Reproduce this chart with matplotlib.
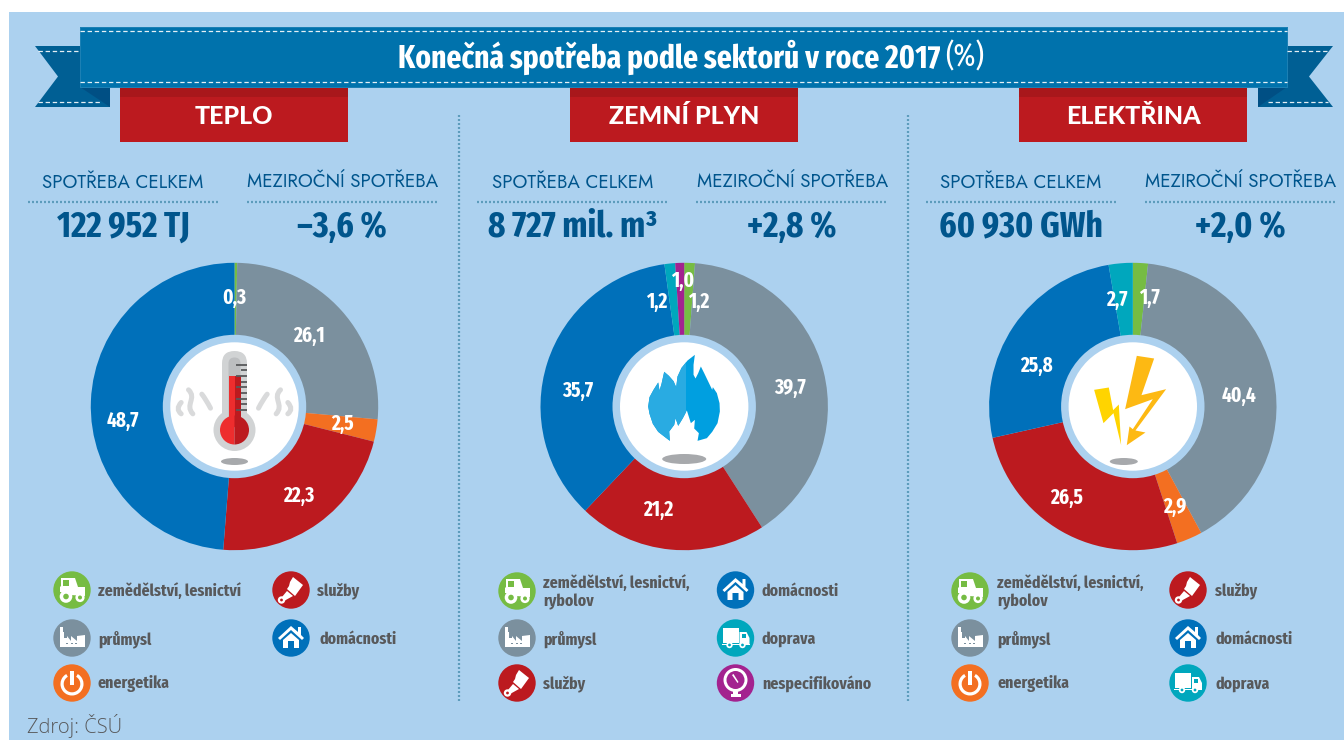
import matplotlib
matplotlib.use("Agg")
import logging
import matplotlib.pyplot as plt
from matplotlib.patches import Circle, Ellipse, Polygon, Rectangle, Wedge, FancyBboxPatch, PathPatch
from matplotlib.path import Path

logging.getLogger("matplotlib.font_manager").setLevel(logging.ERROR)

W, H = 1344, 740

# data
panel_titles = ["TEPLO", "ZEMNÍ PLYN", "ELEKTŘINA"]
panel_totals = ["122 952 TJ", "8 727 mil. m³", "60 930 GWh"]
panel_changes = ["–3,6 %", "+2,8 %", "+2,0 %"]

teplo_sectors = ["zem", "prum", "ener", "sluz", "dom"]
teplo_values = [0.3, 26.1, 2.5, 22.3, 48.7]
plyn_sectors = ["zem", "prum", "sluz", "dom", "dop", "nesp"]
plyn_values = [1.2, 39.7, 21.2, 35.7, 1.2, 1.0]
elektrina_sectors = ["zem", "prum", "ener", "sluz", "dom", "dop"]
elektrina_values = [1.7, 40.4, 2.9, 26.5, 25.8, 2.7]

teplo_labels = ["0,3", "26,1", "2,5", "22,3", "48,7"]
plyn_labels = ["1,2", "39,7", "21,2", "35,7", "1,2", "1,0"]
elektrina_labels = ["1,7", "40,4", "2,9", "26,5", "25,8", "2,7"]

sector_names = {
    "zem": "zemědělství, lesnictví",
    "zem2": "zemědělství, lesnictví,\nrybolov",
    "prum": "průmysl",
    "ener": "energetika",
    "sluz": "služby",
    "dom": "domácnosti",
    "dop": "doprava",
    "nesp": "nespecifikováno",
}

# colours
colors = {
    "zem": "#76BC43",
    "prum": "#7B909E",
    "ener": "#F36F21",
    "sluz": "#BC1A1F",
    "dom": "#0070BA",
    "dop": "#00A7BD",
    "nesp": "#A3228F",
}
BG = "#ACD1EF"
RIBBON = "#0072AC"
TAIL = "#005F94"
FOLD = "#004F84"
DARKBLUE = "#00558C"
GREY_TEXT = "#58595B"

NARROW = ["Fira Sans Extra Condensed", "Fira Sans Condensed", "Open Sans", "DejaVu Sans"]
FUTURA = ["Jost", "Lato", "DejaVu Sans"]

fig = plt.figure(figsize=(W / 100, H / 100), dpi=100, facecolor="white")

ax = fig.add_axes([0, 0, 1, 1], zorder=0)
ax.set_xlim(0, W)
ax.set_ylim(H, 0)
ax.axis("off")

top = fig.add_axes([0, 0, 1, 1], zorder=5)
top.set_xlim(0, W)
top.set_ylim(H, 0)
top.axis("off")
top.patch.set_alpha(0)


def poly(a, pts, color, z=3, cx=0, cy=0, k=1.0, **kw):
    pts = [(cx + p[0] * k, cy + p[1] * k) for p in pts]
    patch = Polygon(pts, closed=True, facecolor=color, edgecolor="none", zorder=z, **kw)
    a.add_patch(patch)
    return patch


def circ(a, x, y, r, color, z=3):
    a.add_patch(Circle((x, y), r, facecolor=color, edgecolor="none", zorder=z))


def rect(a, x0, y0, x1, y1, color, z=3):
    a.add_patch(Rectangle((x0, y0), x1 - x0, y1 - y0, facecolor=color, edgecolor="none", zorder=z))


# background
rect(ax, 9, 12, W, H, BG, z=1)

# ribbon
poly(ax, [(35, 46), (110, 46), (110, 107), (35, 107), (58, 76.5)], TAIL)
poly(ax, [(1333, 46), (1258, 46), (1258, 107), (1333, 107), (1309, 76.5)], TAIL)
poly(ax, [(80, 87), (110, 87), (110, 107)], FOLD, z=4)
poly(ax, [(1287, 87), (1258, 87), (1258, 107)], FOLD, z=4)
rect(ax, 80, 26.5, 1287.5, 87.5, "#1C80B4", z=5)
rect(ax, 80.5, 27.5, 1287, 86.5, RIBBON, z=5)
for y0, x0, x1 in [(31, 80, 1287), (82, 80, 1287), (51, 38, 80), (51, 1287, 1328), (102, 38, 100), (102, 1268, 1328)]:
    ax.plot([x0, x1], [y0, y0], color="white", lw=0.9, dashes=(3.5, 2.2), zorder=6, alpha=0.9)

t1 = ax.text(398, 57, "Konečná spotřeba podle sektorů v roce 2017", color="white", fontsize=23,
             fontweight="bold", family=NARROW, ha="left", va="center", zorder=7)
fig.canvas.draw()
ext = t1.get_window_extent()
ax.text(ext.x1 + 5, 57, "(%)", color="white", fontsize=23, family=NARROW, ha="left", va="center", zorder=7)


# centre icons
def thermometer(cx, cy):
    k = 1 / 3
    steam = [
        [(-138, -50), (-112, -25), (-150, -5), (-125, 22)],
        [(-160, -12), (-178, 8), (-160, 22)],
        [(-98, -37), (-86, -22), (-72, 5)],
        [(138, -50), (112, -25), (150, -5), (125, 22)],
        [(160, -12), (178, 8), (160, 22)],
        [(98, -37), (86, -22), (72, 5)],
    ]
    for s in steam:
        pts = [(cx + q[0] * k, cy + q[1] * k) for q in s]
        codes = [Path.MOVETO] + ([Path.CURVE4] * 3 if len(pts) == 4 else [Path.CURVE3] * 2)
        top.add_patch(PathPatch(Path(pts, codes), facecolor="none", edgecolor="#D9DADB", lw=3.6,
                                capstyle="round", zorder=6))
    top.add_patch(FancyBboxPatch((cx - 12.5, cy - 55.5), 25, 80, boxstyle="round,pad=0,rounding_size=12.5",
                                 facecolor="#D1D3D4", edgecolor="none", zorder=6))
    circ(top, cx, cy + 23.5, 21, "#D1D3D4", z=6)
    top.add_patch(FancyBboxPatch((cx - 6, cy - 49), 12, 70, boxstyle="round,pad=0,rounding_size=6",
                                 facecolor="#BCBEC0", edgecolor="none", zorder=7))
    rect(top, cx - 6, cy - 30.5, cx, cy + 20, "#EE2D2E", z=8)
    rect(top, cx, cy - 30.5, cx + 6, cy + 20, "#BC1A1F", z=8)
    top.add_patch(Wedge((cx, cy + 23.5), 14.5, 90, 270, facecolor="#EE2D2E", edgecolor="none", zorder=8))
    top.add_patch(Wedge((cx, cy + 23.5), 14.5, 270, 90, facecolor="#BC1A1F", edgecolor="none", zorder=8))
    for i in range(5):
        y0 = cy - 41.8 + i * 11.3
        top.plot([cx + 1, cx + 12], [y0, y0], color="#58595B", lw=1.3, zorder=9, solid_capstyle="butt")
        if i < 4:
            top.plot([cx + 6.5, cx + 12], [y0 + 5.65, y0 + 5.65], color="#58595B", lw=1.3, zorder=9,
                     solid_capstyle="butt")
    top.add_patch(Ellipse((cx, cy + 55), 27, 7, facecolor="#A7A9AC", edgecolor="none", zorder=6))


def flame(cx, cy):
    k = 1 / 3
    outline = [(-43, 103), (-60, 90), (-78, 76), (-94, 52), (-104, 22), (-108, 0), (-104, -28), (-92, -50),
               (-78, -72), (-74, -48), (-68, -68), (-60, -104), (-46, -92), (-32, -76), (-24, -58), (-20, -90),
               (-8, -116), (10, -138), (32, -155), (28, -125), (28, -95), (34, -84), (42, -100), (50, -120),
               (60, -100), (72, -75), (84, -50), (86, -58), (98, -40), (106, -10), (107, 15), (100, 50),
               (84, 76), (68, 95), (40, 103), (44, 80), (30, 66), (32, 40), (20, 50), (8, 12), (-4, 35),
               (-18, 58), (-26, 35), (-30, 55), (-45, 75)]
    poly(top, outline, "#009FE0", z=6, cx=cx, cy=cy, k=k)
    left = poly(top, outline, "#29ABE2", z=7, cx=cx, cy=cy, k=k)
    clip = Rectangle((cx - 40, cy - 60), 41.5, 110, transform=top.transData)
    left.set_clip_path(clip)
    top.add_patch(Ellipse((cx, cy + 52.5), 44, 10, facecolor="#A7A9AC", edgecolor="none", zorder=6))


def lightning(cx, cy):
    k = 1 / 3
    left_bolt = [(-116, -50), (-72, -57), (-59, 11), (-42, -6), (-35, 116), (-58, 20), (-88, 50)]
    right_bolt = [(12, -152), (64, -144), (26, -34), (100, -52), (8, 72), (38, 78), (-18, 116), (-10, 60),
                  (0, 68), (60, -22), (-23, 8)]
    poly(top, left_bolt, "#FFD400", z=6, cx=cx, cy=cy, k=k)
    poly(top, right_bolt, "#FDB913", z=6, cx=cx, cy=cy, k=k)
    top.add_patch(Ellipse((cx - 9, cy + 55), 28, 7, facecolor="#A7A9AC", edgecolor="none", zorder=6))


# legend icons
def icon_zem(x, y):
    c = colors["zem"]
    circ(ax, x, y, 18.7, c)
    poly(ax, [(-11, -10), (-9, -10), (-9, -4), (-3, -4), (-3, -10), (-11, -10), (-11, -12), (3, -12), (6, -3),
              (13, -3), (13, 6), (-1, 5), (-3, 2), (-12, 2), (-12, -3), (-11, -4)], "white", z=4, cx=x, cy=y)
    circ(ax, x - 6, y + 6.5, 6.3, "white", z=5)
    circ(ax, x - 6, y + 6.5, 2.8, c, z=6)
    circ(ax, x + 8, y + 7.5, 4.6, "white", z=5)
    circ(ax, x + 8, y + 7.5, 2.0, c, z=6)


def icon_prum(x, y):
    circ(ax, x, y, 18.7, colors["prum"])
    poly(ax, [(-12, 9), (-12, -11), (-9, -11), (-9, -6), (-8, -6), (-8, 0), (-5, 0), (-5, -2), (-1, 3),
              (-1, -2), (5, 3), (5, -2), (13, -3), (13, 9)], "white", z=4, cx=x, cy=y)
    for d in (-6, -1.5, 3):
        rect(ax, x + d, y + 4.5, x + d + 2, y + 6, colors["prum"], z=5)


def icon_ener(x, y):
    c = colors["ener"]
    circ(ax, x, y, 18.7, c)
    ax.add_patch(Wedge((x, y + 1), 11.5, -60, 240, width=3.2, facecolor="white", edgecolor="none", zorder=4))
    rect(ax, x - 1.7, y - 12, x + 1.7, y + 2, "white", z=5)


def icon_sluz(x, y):
    c = colors["sluz"]
    circ(ax, x, y, 18.7, c)
    poly(ax, [(2, -13), (12, -5), (4, 6), (-4, -1), (-2, -4), (-1, -8)], "white", z=4, cx=x, cy=y)
    poly(ax, [(-4, 1), (2, 6), (-7, 11), (-9, 7)], "white", z=4, cx=x, cy=y)
    circ(ax, x - 9.5, y + 10, 3.7, "white", z=4)
    circ(ax, x - 9.5, y + 10, 1.4, c, z=5)


def icon_dom(x, y):
    circ(ax, x, y, 18.7, colors["dom"])
    poly(ax, [(-13, 0), (0, -12), (7, -6), (7, -11), (10, -11), (10, -3), (13, 0), (11, 2), (0, -8), (-11, 2)],
         "white", z=4, cx=x, cy=y)
    poly(ax, [(-8, 2), (0, -5), (8, 2), (8, 10), (3, 10), (3, 3), (-3, 3), (-3, 10), (-8, 10)], "white", z=4,
         cx=x, cy=y)


def icon_dop(x, y):
    c = colors["dop"]
    circ(ax, x, y, 18.7, c)
    rect(ax, x - 13, y - 10, x + 3, y + 5, "white", z=4)
    poly(ax, [(4, -6), (11, -6), (14, 0), (14, 6), (4, 6)], "white", z=4, cx=x, cy=y)
    rect(ax, x + 6, y - 4.5, x + 10, y - 0.5, c, z=5)
    rect(ax, x - 14, y + 6.2, x + 14, y + 7.2, "white", z=4)
    for d in (-6, 7):
        circ(ax, x + d, y + 7, 3.2, "white", z=5)
        circ(ax, x + d, y + 7, 1.4, c, z=6)


def icon_nesp(x, y):
    c = colors["nesp"]
    circ(ax, x, y, 18.7, c)
    circ(ax, x, y - 3, 12, "white", z=4)
    circ(ax, x, y - 3, 9, c, z=5)
    rect(ax, x - 2.5, y + 8, x + 2.5, y + 14, "white", z=4)
    rect(ax, x - 5, y + 11, x + 5, y + 14, "white", z=4)
    poly(ax, [(-3.5, -8), (-2, -9), (3, -1), (2, 0)], "white", z=6, cx=x, cy=y)


icons = {"zem": icon_zem, "prum": icon_prum, "ener": icon_ener, "sluz": icon_sluz, "dom": icon_dom,
         "dop": icon_dop, "nesp": icon_nesp}

# layout per panel
R = 143.7
panels = [
    dict(cx=234.5, dx=0, box=120, values=teplo_values, sectors=teplo_sectors, labels=teplo_labels,
         label_pos=[(234, 298), (309, 336), (342, 424), (299, 496), (123, 421)], draw=thermometer,
         legend=[("zem", 72, 590, 98), ("prum", 72, 638, 98), ("ener", 72, 683, 98),
                 ("sluz", 291, 590, 317), ("dom", 291, 638, 319)]),
    dict(cx=684.2, dx=449.4, box=570, values=plyn_values, sectors=plyn_sectors, labels=plyn_labels,
         label_pos=[(699, 302), (790, 388), (658, 510), (578, 391), (657, 302), (683, 281)], draw=flame,
         legend=[("zem2", 517, 591, 543), ("prum", 517, 638, 543), ("sluz", 517, 683, 543),
                 ("dom", 735.5, 590, 762), ("dop", 735.5, 638, 762), ("nesp", 735.5, 683, 762)]),
    dict(cx=1132.8, dx=898, box=1019, values=elektrina_values, sectors=elektrina_sectors,
         labels=elektrina_labels,
         label_pos=[(1149, 298), (1239, 396), (1175, 507), (1067, 498), (1036, 366), (1117, 300)], draw=lightning,
         legend=[("zem2", 970, 591, 997), ("prum", 970, 638, 997), ("ener", 970, 683, 997),
                 ("sluz", 1188, 590, 1215), ("dom", 1188, 638, 1215), ("dop", 1188, 683, 1215)]),
]
CY = 406.5

for i, p in enumerate(panels):
    # header box
    rect(ax, p["box"], 87.5, p["box"] + 228, 142, "#BC1A1F", z=2)
    rect(ax, p["box"], 87.5, p["box"] + 228, 97, "#A8171B", z=2)
    ax.text(p["box"] + 114, 116, panel_titles[i], color="white", fontsize=18, family="Lato", fontweight="black",
            ha="center", va="center", zorder=4)

    # sub headings
    dx = p["dx"]
    ax.text(123 + dx, 182, "SPOTŘEBA CELKEM", color=DARKBLUE, fontsize=13.5, family=FUTURA, ha="center",
            va="center", zorder=4)
    ax.text(343 + dx, 182, "MEZIROČNÍ SPOTŘEBA", color=DARKBLUE, fontsize=13.5, family=FUTURA, ha="center",
            va="center", zorder=4)
    for x0 in (28, 247):
        ax.plot([x0 + dx, x0 + 190 + dx], [201.5, 201.5], color="#5D9CBC", lw=1.6, dashes=(0.9, 0.9), zorder=4)
    ax.text(123 + dx, 227, panel_totals[i], color=DARKBLUE, fontsize=26, fontweight="bold", family=NARROW,
            ha="center", va="center", zorder=4)
    ax.text(342 + dx, 227, panel_changes[i], color=DARKBLUE, fontsize=26, fontweight="bold", family=NARROW,
            ha="center", va="center", zorder=4)

    # donut
    pie_ax = fig.add_axes([(p["cx"] - R) / W, 1 - (CY + R) / H, 2 * R / W, 2 * R / H], zorder=2)
    pie_ax.pie(p["values"], colors=[colors[s] for s in p["sectors"]], startangle=90, counterclock=False, radius=1,
               wedgeprops=dict(width=0.6, edgecolor="none", clip_on=False))
    pie_ax.set_xlim(-1, 1)
    pie_ax.set_ylim(-1, 1)
    pie_ax.axis("off")

    circ(top, p["cx"], CY, 71.7, BG, z=4)
    circ(top, p["cx"], CY, 64.2, "white", z=5)
    p["draw"](p["cx"], CY)

    for lab, (lx, ly) in zip(p["labels"], p["label_pos"]):
        top.text(lx, ly, lab, color="white", fontsize=15, fontweight="bold", family=NARROW, ha="center",
                 va="center", zorder=10)

    # legend
    for key, x, y, tx in p["legend"]:
        icons["zem" if key == "zem2" else key](x, y)
        ax.text(tx, y + 1, sector_names[key], color=GREY_TEXT, fontsize=12.3, fontweight="bold", family=NARROW,
                ha="left", va="center", linespacing=1.2, zorder=5)

# dotted separators
for x in (459, 908):
    ax.plot([x, x], [115, 702], color="#5D9CBC", lw=1.6, dashes=(0.9, 0.9), zorder=2)

ax.text(27, 726, "Zdroj: ČSÚ", color=GREY_TEXT, fontsize=14.5, family="Open Sans", fontweight="light", ha="left",
        va="center", zorder=5)

fig.savefig("out.png", dpi=100, facecolor="white")
